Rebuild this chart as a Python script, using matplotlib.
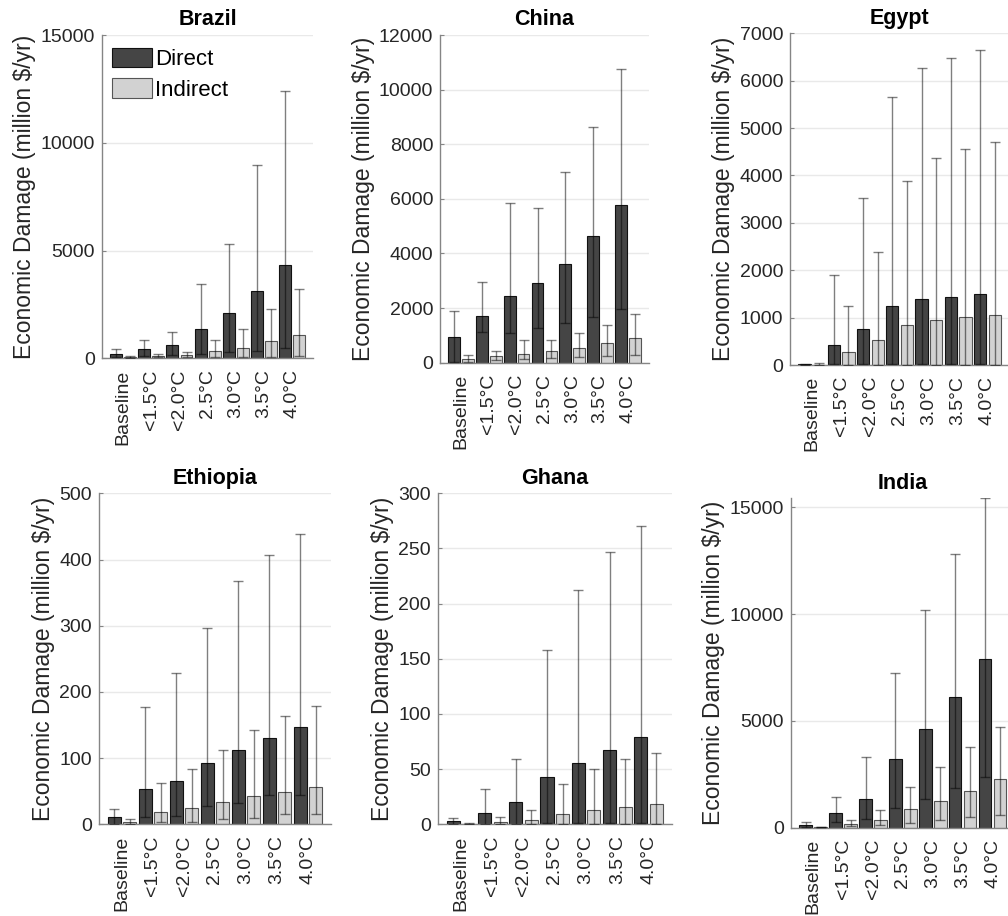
import matplotlib
matplotlib.use("Agg")
import matplotlib.pyplot as plt
import numpy as np

plt.rcParams['font.family'] = ['Liberation Sans', 'DejaVu Sans']

scenarios = ["Baseline", "<1.5°C", "<2.0°C", "2.5°C", "3.0°C", "3.5°C", "4.0°C"]

# Brazil (million $/yr): mean, lower bound, upper bound
brazil_direct = [200, 420, 625, 1375, 2090, 3140, 4340]
brazil_direct_lo = [45, 110, 140, 220, 300, 360, 500]
brazil_direct_hi = [420, 840, 1200, 3430, 5300, 8960, 12390]
brazil_indirect = [70, 110, 140, 330, 500, 780, 1060]
brazil_indirect_lo = [10, 45, 45, 45, 60, 80, 125]
brazil_indirect_hi = [110, 200, 300, 860, 1340, 2265, 3230]

# China
china_direct = [930, 1705, 2430, 2920, 3630, 4640, 5780]
china_direct_lo = [10, 1130, 1105, 1265, 1470, 1670, 1963]
china_direct_hi = [1890, 2960, 5860, 5670, 7000, 8620, 10760]
china_indirect = [147, 233, 331, 430, 540, 712, 920]
china_indirect_lo = [12, 98, 147, 172, 196, 233, 282]
china_indirect_hi = [282, 430, 822, 834, 1080, 1387, 1767]

# Egypt
egypt_direct = [12, 427, 762, 1238, 1385, 1434, 1497]
egypt_direct_lo = [2, 15, 15, 15, 15, 15, 15]
egypt_direct_hi = [20, 1890, 3530, 5660, 6270, 6480, 6650]
egypt_indirect = [8, 280, 518, 853, 958, 1014, 1057]
egypt_indirect_lo = [2, 10, 10, 10, 10, 10, 10]
egypt_indirect_hi = [45, 1238, 2385, 3880, 4365, 4550, 4710]

# Ethiopia
ethiopia_direct = [11.6, 53, 65.7, 92.4, 112.6, 130, 146.5]
ethiopia_direct_lo = [0.5, 11.6, 13.1, 27.8, 31.8, 44.4, 44.4]
ethiopia_direct_hi = [23.7, 177, 228, 296, 367, 407, 439]
ethiopia_indirect = [3.5, 18.7, 24.2, 33.8, 42.4, 49.5, 56]
ethiopia_indirect_lo = [0.5, 3.5, 3.5, 8, 10, 15.7, 15.7]
ethiopia_indirect_hi = [7.6, 63, 83.3, 112.6, 142, 163, 179]

# Ghana
ghana_direct = [2.7, 10.6, 20.3, 42.7, 56, 67, 78.8]
ghana_direct_lo = [0.3, 0.3, 0.3, 0.8, 0.8, 0.8, 0.8]
ghana_direct_hi = [5.5, 31.8, 59, 158, 212, 247, 270]
ghana_indirect = [0.5, 2.1, 3.9, 9.4, 12.7, 15.5, 18.5]
ghana_indirect_lo = [0.1, 0.2, 0.2, 0.3, 0.3, 0.3, 0.3]
ghana_indirect_hi = [0.8, 6.7, 13.3, 36.7, 50, 59, 65]

# India
india_direct = [110, 703, 1360, 3203, 4625, 6125, 7875]
india_direct_lo = [30, 281, 422, 906, 1328, 1875, 2390]
india_direct_hi = [250, 1453, 3328, 7220, 10190, 12830, 15420]
india_indirect = [30, 156, 344, 860, 1250, 1734, 2266]
india_indirect_lo = [10, 78, 110, 234, 360, 484, 594]
india_indirect_hi = [45, 344, 828, 1922, 2860, 3766, 4734]

W, H = 1008, 916
fig = plt.figure(figsize=(W / 100, H / 100), dpi=100)

DIRECT_FILL = "#454545"
INDIRECT_FILL = "#d2d2d2"
AXIS_GRAY = "#858585"
TEXT_DARK = "#262626"


def px_axes(x0, x1, ytop, ybot):
    return fig.add_axes([x0 / W, (H - ybot) / H, (x1 - x0) / W, (ybot - ytop) / H])


panels = [
    ("Brazil", (101.9, 313.4, 35.0, 358.3), (0, 15000), np.arange(0, 15001, 5000),
     brazil_direct, brazil_direct_lo, brazil_direct_hi,
     brazil_indirect, brazil_indirect_lo, brazil_indirect_hi),
    ("China", (440.3, 648.6, 35.0, 362.7), (0, 12000), np.arange(0, 12001, 2000),
     china_direct, china_direct_lo, china_direct_hi,
     china_indirect, china_indirect_lo, china_indirect_hi),
    ("Egypt", (790.0, 1009.3, 33.3, 365.0), (0, 7000), np.arange(0, 7001, 1000),
     egypt_direct, egypt_direct_lo, egypt_direct_hi,
     egypt_indirect, egypt_indirect_lo, egypt_indirect_hi),
    ("Ethiopia", (98.75, 331.25, 493.3, 824.3), (0, 500), np.arange(0, 501, 100),
     ethiopia_direct, ethiopia_direct_lo, ethiopia_direct_hi,
     ethiopia_indirect, ethiopia_indirect_lo, ethiopia_indirect_hi),
    ("Ghana", (437.7, 672.0, 493.3, 824.3), (0, 300), np.arange(0, 301, 50),
     ghana_direct, ghana_direct_lo, ghana_direct_hi,
     ghana_indirect, ghana_indirect_lo, ghana_indirect_hi),
    ("India", (790.8, 1015.0, 498.3, 827.7), (0, 15420), np.arange(0, 15001, 5000),
     india_direct, india_direct_lo, india_direct_hi,
     india_indirect, india_indirect_lo, india_indirect_hi),
]

x = np.arange(1, len(scenarios) + 1)
offset = 0.25
width = 0.42

for (name, box, ylim, yticks, d, dlo, dhi, ind, ilo, ihi) in panels:
    ax = px_axes(*box)
    d, dlo, dhi = map(np.asarray, (d, dlo, dhi))
    ind, ilo, ihi = map(np.asarray, (ind, ilo, ihi))

    ax.set_axisbelow(True)
    ax.yaxis.grid(True, color="#e9e9e9", lw=1.0)

    b1 = ax.bar(x - offset, d, width, color=DIRECT_FILL, edgecolor="#111111",
                lw=0.8, label="Direct", zorder=2)
    b2 = ax.bar(x + offset, ind, width, color=INDIRECT_FILL, edgecolor="#555555",
                lw=0.8, label="Indirect", zorder=2)

    err_kw = dict(fmt="none", ecolor="black", alpha=0.5, elinewidth=1.0,
                  capsize=3.4, capthick=1.0, zorder=3)
    ax.errorbar(x - offset, d, yerr=[d - dlo, dhi - d], **err_kw)
    ax.errorbar(x + offset, ind, yerr=[ind - ilo, ihi - ind], **err_kw)

    ax.set_xlim(0.25, 7.75)
    ax.set_ylim(*ylim)
    ax.set_yticks(yticks)
    ax.set_xticks(x)
    ax.set_xticklabels(scenarios, rotation=90)

    for side in ("top", "right"):
        ax.spines[side].set_visible(False)
    for side in ("left", "bottom"):
        ax.spines[side].set_color(AXIS_GRAY)
        ax.spines[side].set_linewidth(1.0)

    ax.tick_params(axis="y", direction="in", length=3, color=AXIS_GRAY,
                   labelsize=14, labelcolor=TEXT_DARK, pad=5)
    ax.tick_params(axis="x", length=0, labelsize=14, labelcolor=TEXT_DARK, pad=8)

    ax.set_ylabel("Economic Damage (million $/yr)", fontsize=16.5,
                  color=TEXT_DARK, labelpad=3)
    ax.set_title(name, fontsize=15.5, fontweight="bold", color="black", pad=7)

    if name == "Brazil":
        ax.legend(handles=[b1, b2], loc="upper left",
                  bbox_to_anchor=(111.5 / W, 1 - 47.5 / H),
                  bbox_transform=fig.transFigure, frameon=False, fontsize=16,
                  handlelength=1.8, handleheight=0.98, handletextpad=0.15,
                  labelspacing=0.38, borderpad=0, borderaxespad=0)

fig.savefig("out.png", dpi=100, facecolor="white")
